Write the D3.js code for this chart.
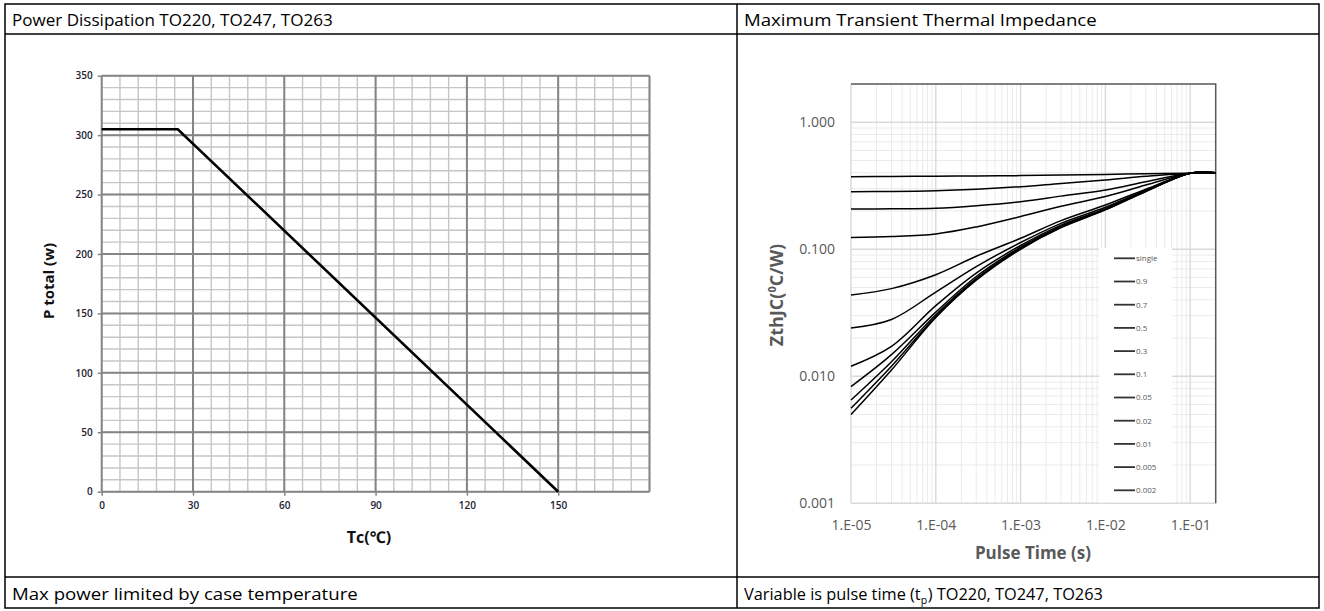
<!DOCTYPE html>
<html>
<head>
<meta charset="utf-8">
<script src="https://cdn.jsdelivr.net/npm/d3@7"></script>
<style>
  body { margin: 0; background: #fff; }
  svg text { font-family: "Open Sans", "Noto Sans", sans-serif; }
</style>
</head>
<body>
<svg id="page" width="1324" height="611"></svg>
<script>
// ---- power derating data (left chart) ----
var tcValues   = [0, 25, 150];
var ptotValues = [305, 305, 0];
var tcTicks    = [0, 30, 60, 90, 120, 150];
var ptotTicks  = [0, 50, 100, 150, 200, 250, 300, 350];

// ---- transient thermal impedance data (right chart) ----
var pulseTimes = [1e-5, 3e-5, 1e-4, 3e-4, 1e-3, 3e-3, 1e-2, 3e-2, 1e-1, 2e-1];
var zthSingle = [0.0050, 0.0112, 0.0290, 0.0570, 0.100, 0.148, 0.204, 0.285, 0.397, 0.400];
var zth0002   = [0.0056, 0.0120, 0.0295, 0.0580, 0.101, 0.149, 0.205, 0.286, 0.397, 0.400];
var zth0005   = [0.0065, 0.0130, 0.0305, 0.0590, 0.102, 0.150, 0.206, 0.287, 0.397, 0.400];
var zth001    = [0.0083, 0.0148, 0.0320, 0.0610, 0.104, 0.152, 0.207, 0.288, 0.397, 0.400];
var zth002    = [0.0120, 0.0172, 0.0360, 0.0650, 0.107, 0.155, 0.209, 0.289, 0.397, 0.400];
var zth005    = [0.0240, 0.0280, 0.0460, 0.0730, 0.113, 0.160, 0.214, 0.292, 0.397, 0.400];
var zth01     = [0.0436, 0.0490, 0.0630, 0.0880, 0.122, 0.168, 0.223, 0.297, 0.397, 0.400];
var zth03     = [0.124, 0.126, 0.132, 0.150, 0.181, 0.218, 0.260, 0.320, 0.397, 0.400];
var zth05     = [0.207, 0.208, 0.210, 0.220, 0.237, 0.262, 0.293, 0.340, 0.397, 0.400];
var zth07     = [0.284, 0.285, 0.289, 0.297, 0.311, 0.330, 0.351, 0.375, 0.397, 0.400];
var zth09     = [0.373, 0.374, 0.376, 0.378, 0.380, 0.384, 0.388, 0.393, 0.397, 0.400];
var dutyLabels = ["single", "0.9", "0.7", "0.5", "0.3", "0.1", "0.05", "0.02", "0.01", "0.005", "0.002"];
var zthSeries  = [zthSingle, zth09, zth07, zth05, zth03, zth01, zth005, zth002, zth001, zth0005, zth0002];
var zthTicks   = [0.001, 0.01, 0.1, 1];
var timeTicks  = [1e-5, 1e-4, 1e-3, 1e-2, 1e-1];

// ---- table texts (sub: true marks a subscript run) ----
var headLeft  = [{ text: "Power Dissipation TO220, TO247, TO263" }];
var headRight = [{ text: "Maximum Transient Thermal Impedance" }];
var footLeft  = [{ text: "Max power limited by case temperature" }];
var footRight = [{ text: "Variable is pulse time (t" }, { text: "p", sub: true }, { text: ") TO220, TO247, TO263" }];

var svg = d3.select('#page');

// table frame
var tbl = { left: 5, right: 1319, top: 4, bottom: 608, headBottom: 34, footTop: 577, mid: 737 };
var frame = svg.append('g').attr('stroke', '#000').attr('stroke-width', 1.5);
frame.append('rect')
  .attr('x', tbl.left).attr('y', tbl.top)
  .attr('width', tbl.right - tbl.left).attr('height', tbl.bottom - tbl.top)
  .attr('fill', 'none');
frame.append('line').attr('x1', tbl.left).attr('x2', tbl.right).attr('y1', tbl.headBottom).attr('y2', tbl.headBottom);
frame.append('line').attr('x1', tbl.left).attr('x2', tbl.right).attr('y1', tbl.footTop).attr('y2', tbl.footTop);
frame.append('line').attr('x1', tbl.mid).attr('x2', tbl.mid).attr('y1', tbl.top).attr('y2', tbl.bottom);

// cell text: runs laid out one after another, then squeezed to the target width
function cellText(x, y, width, runs) {
  var g = svg.append('g');
  var cx = 0;
  runs.forEach(function(r) {
    var t = g.append('text').attr('x', cx).attr('y', r.sub ? 4 : 0)
      .attr('font-size', r.sub ? 11 : 17).attr('fill', '#000').text(r.text);
    cx += t.node().getComputedTextLength() + (r.sub ? 0.5 : 0);
  });
  g.attr('transform', 'translate(' + x + ',' + y + ') scale(' + (width / cx) + ',1)');
}
cellText(12, 26, 321, headLeft);
cellText(744, 26, 353, headRight);
cellText(12, 600, 346, footLeft);
cellText(744, 600, 359, footRight);

// ================= left chart: power dissipation =================
var px = d3.scaleLinear().domain([0, 180]).range([101.7, 649.5]);
var py = d3.scaleLinear().domain([0, 350]).range([491.7, 75.7]);
var left = svg.append('g');

left.selectAll('.vminor').data(d3.range(0, 181, 6)).enter().append('line')
  .attr('x1', px).attr('x2', px).attr('y1', py(0)).attr('y2', py(350))
  .attr('stroke', '#c6c6c6').attr('stroke-width', 1.4);
left.selectAll('.hminor').data(d3.range(0, 351, 10)).enter().append('line')
  .attr('y1', py).attr('y2', py).attr('x1', px(0)).attr('x2', px(180))
  .attr('stroke', '#c6c6c6').attr('stroke-width', 1.4);
left.selectAll('.vmajor').data(d3.range(0, 181, 30)).enter().append('line')
  .attr('x1', px).attr('x2', px).attr('y1', py(0)).attr('y2', py(350))
  .attr('stroke', '#858585').attr('stroke-width', 2);
left.selectAll('.hmajor').data(ptotTicks).enter().append('line')
  .attr('y1', py).attr('y2', py).attr('x1', px(0)).attr('x2', px(180))
  .attr('stroke', '#858585').attr('stroke-width', 2);

// axes with small outside ticks
var lxAxis = d3.axisBottom(px).tickValues(tcTicks).tickSize(4).tickPadding(6);
var lyAxis = d3.axisLeft(py).tickValues(ptotTicks).tickSize(4).tickPadding(5);
left.append('g').attr('transform', 'translate(0,' + py(0) + ')').call(lxAxis);
left.append('g').attr('transform', 'translate(' + px(0) + ',0)').call(lyAxis);
left.selectAll('.domain').remove();
left.selectAll('.tick line').attr('stroke', '#858585').attr('stroke-width', 1.5);
left.selectAll('.tick text').attr('font-family', '"Open Sans", sans-serif')
  .attr('font-size', 10).attr('font-weight', 600).attr('fill', '#1c1c30');

var derate = d3.line().x(function(d, i) { return px(tcValues[i]); }).y(function(d) { return py(d); });
left.append('path').datum(ptotValues).attr('d', derate)
  .attr('fill', 'none').attr('stroke', '#000').attr('stroke-width', 2.6);

left.append('text').attr('x', 369).attr('y', 543).attr('text-anchor', 'middle')
  .attr('font-family', '"Liberation Sans", Arial, sans-serif').attr('font-weight', 'bold')
  .attr('font-size', 16).attr('fill', '#111').text('Tc(\u2103)');
left.append('text').attr('transform', 'translate(54,281) rotate(-90)').attr('text-anchor', 'middle')
  .attr('font-family', '"Liberation Sans", Arial, sans-serif').attr('font-weight', 'bold')
  .attr('font-size', 15).attr('fill', '#111').text('P total (w)');

// ================= right chart: transient thermal impedance =================
var tx = d3.scaleLog().domain([1e-5, 0.2]).range([851, 1215.7]);
var ty = d3.scaleLog().domain([0.001, 2]).range([503.3, 84]);
var right = svg.append('g');

var minorT = [], minorZ = [];
[1e-5, 1e-4, 1e-3, 1e-2, 1e-1].forEach(function(dec) {
  for (var k = 2; k <= 9; k++) if (dec * k <= 0.2) minorT.push(dec * k);
});
[0.001, 0.01, 0.1, 1].forEach(function(dec) {
  for (var k = 2; k <= 9; k++) if (dec * k <= 2) minorZ.push(dec * k);
});

right.selectAll('.tminor').data(minorT).enter().append('line')
  .attr('x1', tx).attr('x2', tx).attr('y1', ty(0.001)).attr('y2', ty(2))
  .attr('stroke', '#ebebeb').attr('stroke-width', 1);
right.selectAll('.zminor').data(minorZ).enter().append('line')
  .attr('y1', ty).attr('y2', ty).attr('x1', tx(1e-5)).attr('x2', tx(0.2))
  .attr('stroke', '#ebebeb').attr('stroke-width', 1);
right.selectAll('.tmajor').data(timeTicks).enter().append('line')
  .attr('x1', tx).attr('x2', tx).attr('y1', ty(0.001)).attr('y2', ty(2))
  .attr('stroke', '#d9d9d9').attr('stroke-width', 1.4);
right.selectAll('.zmajor').data(zthTicks).enter().append('line')
  .attr('y1', ty).attr('y2', ty).attr('x1', tx(1e-5)).attr('x2', tx(0.2))
  .attr('stroke', '#d9d9d9').attr('stroke-width', 1.4);

// frame: dark top and right edges
right.append('path')
  .attr('d', 'M' + tx(1e-5) + ',' + ty(2) + 'H' + tx(0.2) + 'V' + ty(0.001))
  .attr('fill', 'none').attr('stroke', '#595959').attr('stroke-width', 1.5);

var zline = d3.line()
  .x(function(d, i) { return tx(pulseTimes[i]); })
  .y(function(d) { return ty(d); })
  .curve(d3.curveCatmullRom.alpha(0.5));

// legend background covers the grid
var legX = 1099, legY = 248, legStep = 23.2;
right.append('rect').attr('x', legX).attr('y', legY).attr('width', 73).attr('height', ty(0.001) - legY - 1)
  .attr('fill', '#fff');

right.selectAll('.zth').data(zthSeries).enter().append('path')
  .attr('d', zline).attr('fill', 'none').attr('stroke', '#000').attr('stroke-width', 1.5);

var leg = right.selectAll('.leg').data(dutyLabels).enter().append('g')
  .attr('transform', function(d, i) { return 'translate(' + (legX + 15) + ',' + (legY + 10.3 + i * legStep) + ')'; });
leg.append('line').attr('x1', 0).attr('x2', 21).attr('stroke', '#333').attr('stroke-width', 1.8);
leg.append('text').attr('x', 22).attr('dy', '0.35em').attr('font-size', 8).attr('fill', '#595959')
  .text(function(d) { return d; });

function fmtTime(d) {
  var e = Math.round(Math.log10(d));
  return '1.E' + (e < 0 ? '-' : '+') + d3.format('02d')(Math.abs(e));
}
var rxAxis = d3.axisBottom(tx).tickValues(timeTicks).tickSize(0).tickPadding(17).tickFormat(fmtTime);
var ryAxis = d3.axisLeft(ty).tickValues(zthTicks).tickSize(0).tickPadding(16).tickFormat(d3.format('.3f'));
right.append('g').attr('transform', 'translate(0,' + ty(0.001) + ')').call(rxAxis);
right.append('g').attr('transform', 'translate(' + tx(1e-5) + ',0)').call(ryAxis);
right.selectAll('.domain').remove();
right.selectAll('.tick text').attr('font-family', '"Open Sans", sans-serif')
  .attr('font-size', 14).attr('fill', '#595959');

right.append('text').attr('x', 1033).attr('y', 559).attr('text-anchor', 'middle')
  .attr('font-weight', 'bold').attr('font-size', 17).attr('fill', '#595959').text('Pulse Time (s)');
var yl = right.append('text').attr('transform', 'translate(783,295) rotate(-90)').attr('text-anchor', 'middle')
  .attr('font-weight', 'bold').attr('font-size', 18).attr('fill', '#595959');
yl.append('tspan').text('ZthJC(');
yl.append('tspan').attr('font-size', 11).attr('dy', -7).text('0');
yl.append('tspan').attr('dy', 7).text('C/W)');
</script>
</body>
</html>
